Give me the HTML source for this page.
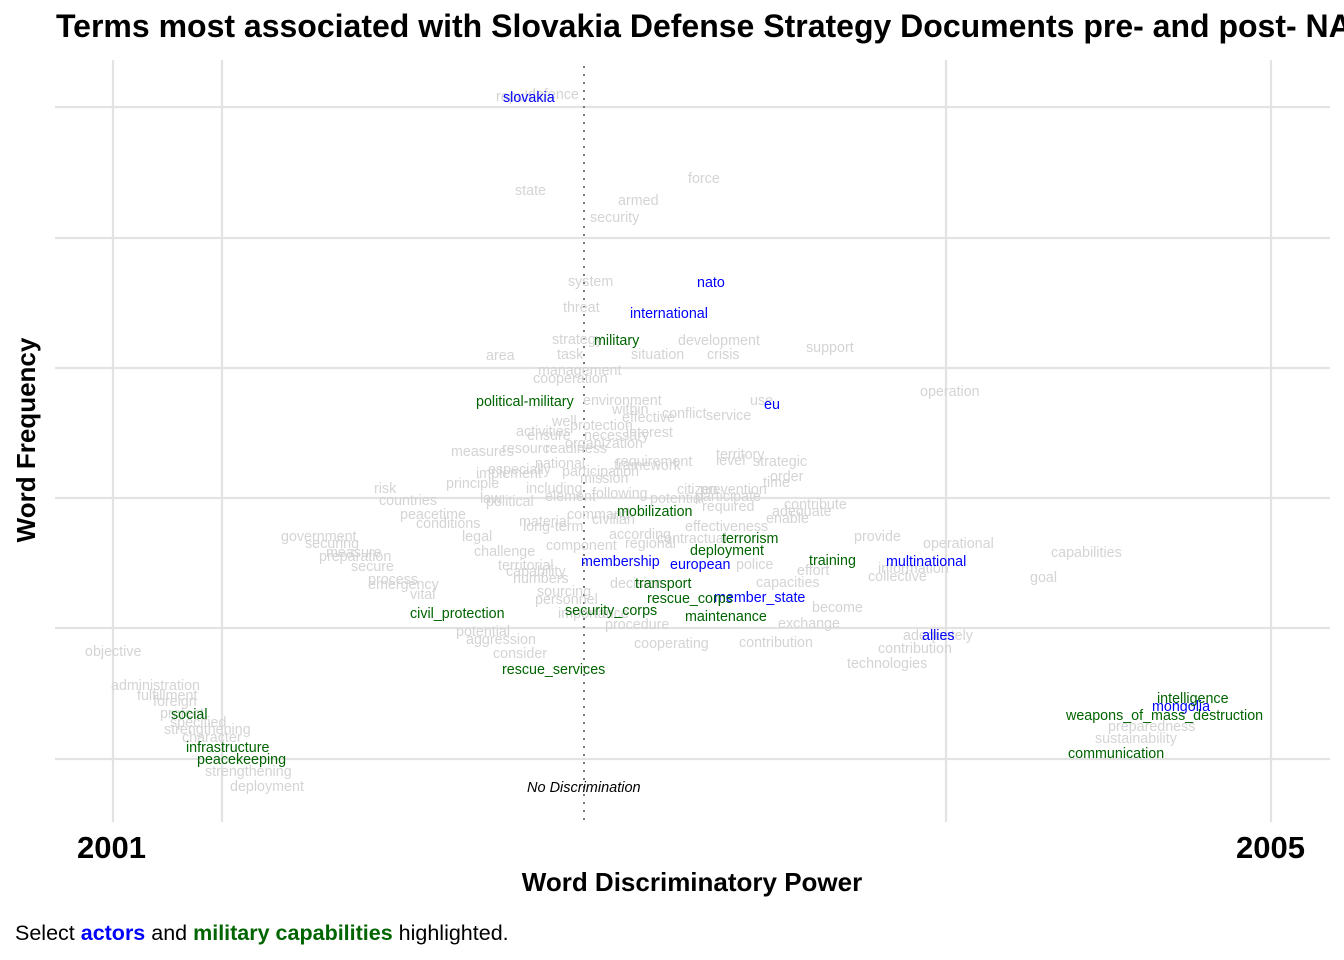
<!DOCTYPE html>
<html><head><meta charset="utf-8"><style>
html,body{margin:0;padding:0;background:#fff;width:1344px;height:960px;overflow:hidden}
svg{display:block}
text{font-family:"Liberation Sans",Arial,sans-serif}
.g{fill:#d4d4d4;font-size:14.3px}
.b{fill:#0000ff;font-size:14.3px}
.k{fill:#006400;font-size:14.3px}
</style></head><body>
<svg width="1344" height="960" xmlns="http://www.w3.org/2000/svg">
<g stroke="#e3e3e3" stroke-width="2.2">
<line x1="55" y1="107" x2="1330" y2="107"/><line x1="55" y1="238" x2="1330" y2="238"/>
<line x1="55" y1="368" x2="1330" y2="368"/><line x1="55" y1="498" x2="1330" y2="498"/>
<line x1="55" y1="628" x2="1330" y2="628"/><line x1="55" y1="759" x2="1330" y2="759"/>
<line x1="113" y1="60" x2="113" y2="822"/><line x1="222" y1="60" x2="222" y2="822"/>
<line x1="946" y1="60" x2="946" y2="822"/><line x1="1271" y1="60" x2="1271" y2="822"/>
</g>
<line x1="584" y1="66" x2="584" y2="822" stroke="#777" stroke-width="2" stroke-dasharray="2,6"/>
<g class="g">
<text x="496" y="101">republic</text><text x="528" y="99">defence</text>
<text x="515" y="195">state</text><text x="688" y="183">force</text><text x="618" y="205">armed</text><text x="590" y="222">security</text>
<text x="568" y="286">system</text><text x="563" y="312">threat</text>
<text x="552" y="344">strategy</text><text x="678" y="345">development</text><text x="486" y="360">area</text><text x="557" y="359">task</text><text x="631" y="359">situation</text><text x="707" y="359">crisis</text><text x="806" y="352">support</text>
<text x="538" y="375">management</text><text x="533" y="383">cooperation</text><text x="920" y="396">operation</text>
<text x="583" y="405">environment</text><text x="750" y="405">use</text>
<text x="612" y="414">within</text><text x="622" y="422">effective</text><text x="662" y="418">conflict</text><text x="706" y="420">service</text>
<text x="552" y="426">well</text><text x="570" y="430">protection</text><text x="516" y="436">activities</text><text x="527" y="440">ensure</text><text x="584" y="440">necessary</text><text x="626" y="437">interest</text>
<text x="565" y="448">organization</text><text x="502" y="453">resource</text><text x="545" y="453">readiness</text><text x="451" y="456">measures</text>
<text x="716" y="459">territory</text><text x="716" y="465">level</text><text x="753" y="466">strategic</text>
<text x="535" y="468">national</text><text x="616" y="466">requirement</text><text x="614" y="470">framework</text>
<text x="476" y="478">implement</text><text x="488" y="474">especially</text><text x="562" y="476">participation</text><text x="770" y="481">order</text>
<text x="580" y="483">mission</text><text x="446" y="488">principle</text><text x="763" y="487">time</text>
<text x="374" y="493">risk</text><text x="526" y="493">including</text><text x="592" y="498">following</text><text x="677" y="494">citizen</text><text x="700" y="494">prevention</text>
<text x="379" y="505">countries</text><text x="480" y="503">law</text><text x="486" y="506">political</text><text x="545" y="501">element</text><text x="650" y="503">potential</text><text x="695" y="501">participate</text><text x="784" y="509">contribute</text>
<text x="702" y="511">required</text><text x="772" y="516">adequate</text><text x="766" y="523">enable</text>
<text x="400" y="519">peacetime</text><text x="416" y="528">conditions</text><text x="567" y="519">command</text><text x="592" y="524">civilian</text>
<text x="519" y="526">material</text><text x="523" y="531">long-term</text><text x="685" y="531">effectiveness</text>
<text x="462" y="541">legal</text><text x="609" y="539">according</text><text x="657" y="543">contractual</text><text x="854" y="541">provide</text>
<text x="281" y="541">government</text><text x="305" y="548">securing</text><text x="326" y="557">measure</text><text x="319" y="561">preparation</text>
<text x="546" y="550">component</text><text x="625" y="548">regional</text><text x="474" y="556">challenge</text><text x="923" y="548">operational</text><text x="1051" y="557">capabilities</text>
<text x="351" y="571">secure</text><text x="498" y="570">territorial</text><text x="506" y="576">capability</text><text x="736" y="569">police</text><text x="797" y="575">effort</text><text x="878" y="573">information</text><text x="868" y="581">collective</text>
<text x="368" y="584">process</text><text x="368" y="589">emergency</text><text x="513" y="583">numbers</text><text x="610" y="588">decision</text><text x="756" y="587">capacities</text><text x="1030" y="582">goal</text>
<text x="410" y="599">vital</text><text x="537" y="596">sourcing</text><text x="535" y="604">personnel</text><text x="812" y="612">become</text>
<text x="558" y="618">importance</text><text x="605" y="629">procedure</text><text x="778" y="628">exchange</text>
<text x="456" y="636">potential</text><text x="466" y="644">aggression</text><text x="493" y="658">consider</text>
<text x="634" y="648">cooperating</text><text x="739" y="647">contribution</text><text x="903" y="640">adequately</text><text x="878" y="653">contribution</text><text x="847" y="668">technologies</text>
<text x="85" y="656">objective</text><text x="111" y="690">administration</text><text x="137" y="700">fulfillment</text><text x="153" y="706">foreign</text>
<text x="160" y="718">protect</text><text x="170" y="727">specified</text><text x="164" y="734">strengthening</text><text x="182" y="742">character</text>
<text x="205" y="776">strengthening</text><text x="230" y="791">deployment</text>
<text x="1108" y="731">preparedness</text><text x="1095" y="743">sustainability</text>
</g>
<g class="b">
<text x="503" y="102">slovakia</text><text x="697" y="287">nato</text><text x="630" y="318">international</text>
<text x="764" y="409">eu</text><text x="581" y="566">membership</text><text x="670" y="569">european</text>
<text x="714" y="602">member_state</text><text x="886" y="566">multinational</text><text x="922" y="640">allies</text><text x="1152" y="711">mongolia</text>
</g>
<g class="k">
<text x="594" y="345">military</text><text x="476" y="406">political-military</text><text x="617" y="516">mobilization</text>
<text x="722" y="543">terrorism</text><text x="690" y="555">deployment</text><text x="809" y="565">training</text>
<text x="635" y="588">transport</text><text x="647" y="603">rescue_corps</text><text x="565" y="615">security_corps</text>
<text x="685" y="621">maintenance</text><text x="410" y="618">civil_protection</text><text x="502" y="674">rescue_services</text>
<text x="171" y="719">social</text><text x="186" y="752">infrastructure</text><text x="197" y="764">peacekeeping</text>
<text x="1157" y="703">intelligence</text><text x="1066" y="720">weapons_of_mass_destruction</text><text x="1068" y="758">communication</text>
</g>
<text x="527" y="792" font-size="14.5" font-style="italic" fill="#000">No Discrimination</text>
<text x="56" y="37" font-size="32" font-weight="bold" fill="#000">Terms most associated with Slovakia Defense Strategy Documents pre- and post- NATO accession</text>
<text x="77" y="858" font-size="31" font-weight="bold" fill="#000">2001</text>
<text x="1236" y="858" font-size="31" font-weight="bold" fill="#000">2005</text>
<text x="692" y="891" font-size="26" font-weight="bold" fill="#000" text-anchor="middle">Word Discriminatory Power</text>
<text transform="translate(35,440) rotate(-90)" font-size="26" font-weight="bold" fill="#000" text-anchor="middle">Word Frequency</text>
<text x="15" y="940" font-size="21.5" fill="#000">Select <tspan fill="#0000ff" font-weight="bold">actors</tspan> and <tspan fill="#006400" font-weight="bold">military capabilities</tspan> highlighted.</text>
</svg>
</body></html>
